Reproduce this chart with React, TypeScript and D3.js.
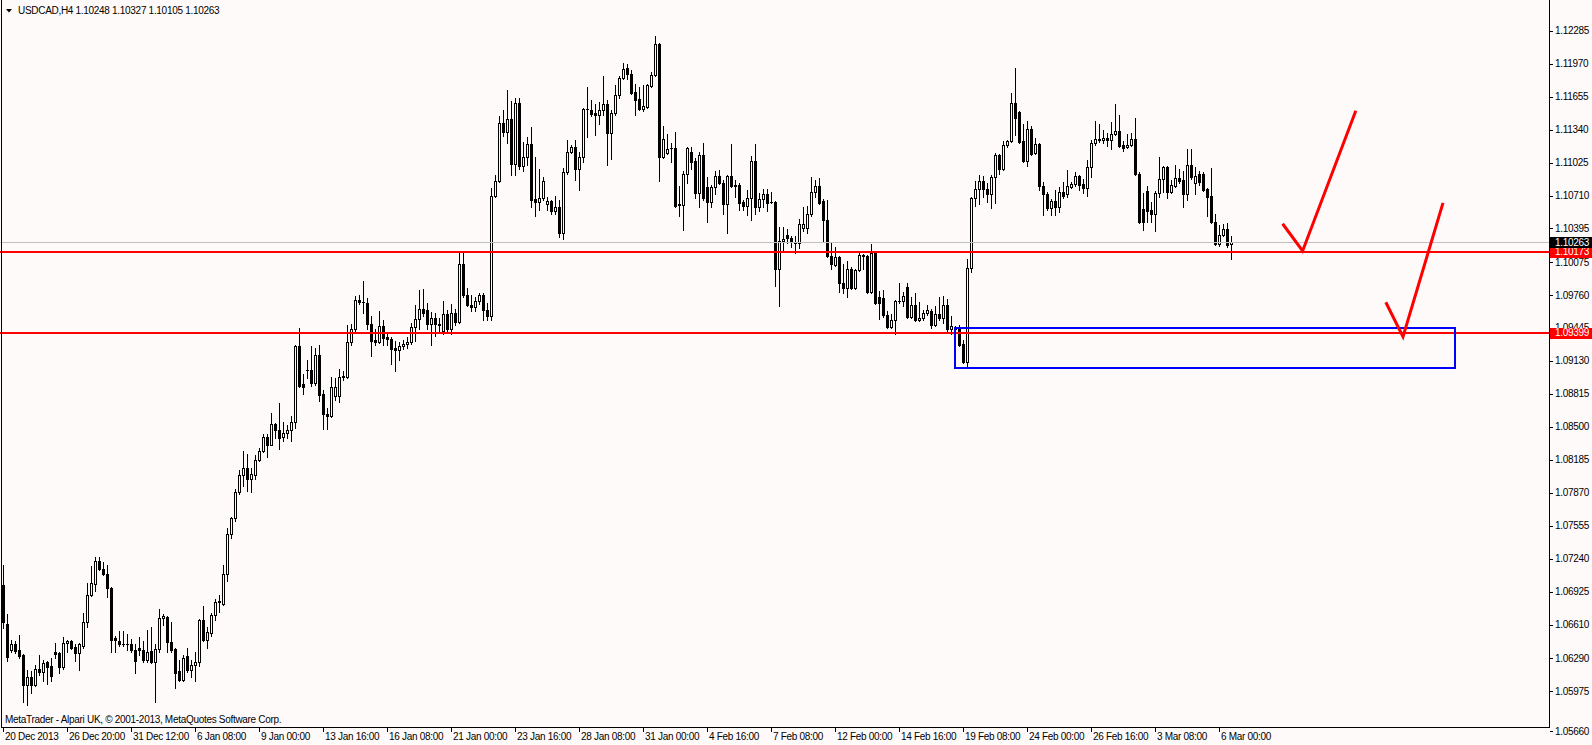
import * as d3 from 'd3';
import { useEffect } from 'react';

// USDCAD H4, one value per bar (bar 0 = 20 Dec 2013 00:00)
const opens = [
  1.0699, 1.0662, 1.0637, 1.0642, 1.0637, 1.0632, 1.0603, 1.0611, 1.0603, 1.0619, 1.0616, 1.0625, 1.0621, 1.0635, 1.0634, 1.0620,
  1.0643, 1.0645, 1.0640, 1.0634, 1.0641, 1.0663, 1.0689, 1.0700, 1.0722, 1.0714, 1.0709, 1.0696, 1.0648, 1.0645, 1.0642, 1.0642,
  1.0642, 1.0637, 1.0639, 1.0637, 1.0627, 1.0636, 1.0625, 1.0638, 1.0667, 1.0668, 1.0644, 1.0638, 1.0617, 1.0608, 1.0631, 1.0618,
  1.0622, 1.0625, 1.0665, 1.0646, 1.0653, 1.0670, 1.0683, 1.0681, 1.0709, 1.0748, 1.0763, 1.0788, 1.0804, 1.0811, 1.0800, 1.0804,
  1.0818, 1.0827, 1.0840, 1.0833, 1.0853, 1.0847, 1.0840, 1.0844, 1.0847, 1.0855, 1.0927, 1.0891, 1.0904, 1.0904, 1.0892, 1.0919,
  1.0881, 1.0862, 1.0860, 1.0879, 1.0879, 1.0898, 1.0898, 1.0931, 1.0943, 1.0971, 1.0969, 1.0968, 1.0948, 1.0933, 1.0931, 1.0946,
  1.0936, 1.0934, 1.0925, 1.0923, 1.0927, 1.0929, 1.0931, 1.0945, 1.0953, 1.0963, 1.0962, 1.0948, 1.0954, 1.0948, 1.0942, 1.0958,
  1.0943, 1.0959, 1.0950, 1.1006, 1.0976, 1.0966, 1.0964, 1.0970, 1.0976, 1.0962, 1.0956, 1.1071, 1.1085, 1.1140, 1.1132, 1.1144,
  1.1101, 1.1159, 1.1099, 1.1108, 1.1120, 1.1068, 1.1065, 1.1069, 1.1063, 1.1066, 1.1056, 1.1060, 1.1035, 1.1093, 1.1113, 1.1117,
  1.1096, 1.1108, 1.1154, 1.1153, 1.1150, 1.1148, 1.1153, 1.1158, 1.1131, 1.1150, 1.1167, 1.1183, 1.1193, 1.1187, 1.1170, 1.1163,
  1.1154, 1.1156, 1.1176, 1.1186, 1.1216, 1.1108, 1.1112, 1.1116, 1.1116, 1.1063, 1.1062, 1.1092, 1.1113, 1.1104, 1.1073, 1.1110,
  1.1079, 1.1065, 1.1079, 1.1090, 1.1083, 1.1063, 1.1090, 1.1081, 1.1081, 1.1065, 1.1061, 1.1069, 1.1104, 1.1060, 1.1068, 1.1072,
  1.1065, 1.1065, 1.1001, 1.1028, 1.1033, 1.1030, 1.1027, 1.1026, 1.1040, 1.1040, 1.1053, 1.1074, 1.1080, 1.1066, 1.1048, 1.1013,
  1.1005, 1.1012, 1.0987, 1.0983, 1.1001, 1.0983, 1.1000, 1.1014, 1.1013, 1.0979, 1.1016, 1.0974, 1.0973, 1.0957, 1.0945, 1.0952,
  1.0970, 1.0970, 1.0984, 1.0955, 1.0966, 1.0952, 1.0954, 1.0959, 1.0961, 1.0947, 1.0958, 1.0954, 1.0966, 1.0943, 1.0945, 1.0944,
  1.0929, 1.0912, 1.1002, 1.1069, 1.1077, 1.1085, 1.1077, 1.1072, 1.1089, 1.1110, 1.1096, 1.1119, 1.1123, 1.1159, 1.1151, 1.1123,
  1.1104, 1.1135, 1.1112, 1.1120, 1.1080, 1.1072, 1.1059, 1.1066, 1.1060, 1.1074, 1.1072, 1.1079, 1.1082, 1.1090, 1.1082, 1.1078,
  1.1098, 1.1121, 1.1125, 1.1124, 1.1126, 1.1124, 1.1130, 1.1133, 1.1119, 1.1117, 1.1119, 1.1125, 1.1092, 1.1058, 1.1075, 1.1057,
  1.1053, 1.1073, 1.1087, 1.1098, 1.1074, 1.1080, 1.1088, 1.1086, 1.1072, 1.1100, 1.1083, 1.1092, 1.1092, 1.1077, 1.1071, 1.1046,
  1.1025, 1.1033, 1.1039, 1.10248,
];
const highs = [
  1.0718, 1.0671, 1.0646, 1.0645, 1.0651, 1.0633, 1.0618, 1.0617, 1.0622, 1.0632, 1.0627, 1.0626, 1.0629, 1.0643, 1.0635, 1.0649,
  1.0646, 1.0646, 1.0642, 1.0643, 1.0672, 1.0701, 1.0717, 1.0726, 1.0726, 1.0721, 1.0718, 1.0697, 1.0650, 1.0655, 1.0655, 1.0652,
  1.0647, 1.0642, 1.0649, 1.0645, 1.0656, 1.0659, 1.0642, 1.0676, 1.0671, 1.0669, 1.0663, 1.0639, 1.0627, 1.0632, 1.0639, 1.0627,
  1.0635, 1.0666, 1.0679, 1.0659, 1.0672, 1.0685, 1.0689, 1.0718, 1.0753, 1.0764, 1.0791, 1.0809, 1.0827, 1.0824, 1.0811, 1.0823,
  1.0830, 1.0843, 1.0843, 1.0863, 1.0854, 1.0873, 1.0855, 1.0852, 1.0860, 1.0928, 1.0944, 1.0900, 1.0914, 1.0927, 1.0925, 1.0928,
  1.0885, 1.0868, 1.0898, 1.0897, 1.0905, 1.0903, 1.0947, 1.0948, 1.0975, 1.0976, 1.0989, 1.0973, 1.0956, 1.0943, 1.0961, 1.0952,
  1.0940, 1.0936, 1.0932, 1.0931, 1.0933, 1.0936, 1.0949, 1.0966, 1.0981, 1.0982, 1.0968, 1.0960, 1.0959, 1.0954, 1.0970, 1.0962,
  1.0967, 1.0963, 1.1017, 1.1017, 1.0983, 1.0976, 1.0974, 1.0978, 1.0978, 1.0968, 1.1078, 1.1091, 1.1147, 1.1153, 1.1172, 1.1161,
  1.1164, 1.1164, 1.1122, 1.1127, 1.1136, 1.1108, 1.1096, 1.1089, 1.1070, 1.1067, 1.1071, 1.1067, 1.1097, 1.1124, 1.1119, 1.1124,
  1.1113, 1.1155, 1.1175, 1.1162, 1.1158, 1.1160, 1.1185, 1.1162, 1.1153, 1.1177, 1.1185, 1.1198, 1.1197, 1.1191, 1.1178, 1.1175,
  1.1177, 1.1178, 1.1189, 1.1223, 1.1217, 1.1137, 1.1130, 1.1121, 1.1132, 1.1080, 1.1094, 1.1117, 1.1117, 1.1107, 1.1113, 1.1121,
  1.1089, 1.1081, 1.1094, 1.1095, 1.1086, 1.1091, 1.1120, 1.1086, 1.1083, 1.1067, 1.1076, 1.1109, 1.1120, 1.1073, 1.1077, 1.1077,
  1.1074, 1.1066, 1.1041, 1.1041, 1.1039, 1.1032, 1.1032, 1.1049, 1.1060, 1.1061, 1.1089, 1.1086, 1.1088, 1.1068, 1.1067, 1.1026,
  1.1022, 1.1013, 1.1006, 1.1008, 1.1003, 1.1001, 1.1018, 1.1015, 1.1014, 1.1025, 1.1018, 1.0980, 1.0981, 1.0961, 1.0958, 1.0971,
  1.0987, 1.0979, 1.0987, 1.0974, 1.0978, 1.0969, 1.0962, 1.0966, 1.0963, 1.0965, 1.0974, 1.0975, 1.0972, 1.0956, 1.0946, 1.0947,
  1.0933, 1.1010, 1.1070, 1.1085, 1.1091, 1.1090, 1.1083, 1.1091, 1.1112, 1.1111, 1.1123, 1.1124, 1.1169, 1.1193, 1.1152, 1.1139,
  1.1142, 1.1137, 1.1126, 1.1121, 1.1084, 1.1074, 1.1068, 1.1076, 1.1079, 1.1084, 1.1095, 1.1084, 1.1093, 1.1091, 1.1087, 1.1105,
  1.1124, 1.1142, 1.1139, 1.1134, 1.1131, 1.1141, 1.1158, 1.1148, 1.1123, 1.1130, 1.1131, 1.1145, 1.1093, 1.1073, 1.1080, 1.1065,
  1.1075, 1.1108, 1.1099, 1.1099, 1.1086, 1.1100, 1.1096, 1.1094, 1.1115, 1.1115, 1.1098, 1.1094, 1.1093, 1.1078, 1.1097, 1.1053,
  1.1043, 1.1044, 1.1045, 1.10327,
];
const lows = [
  1.0658, 1.0626, 1.0635, 1.0634, 1.0629, 1.0587, 1.0584, 1.0596, 1.0602, 1.0613, 1.0607, 1.0604, 1.0607, 1.0629, 1.0615, 1.0619,
  1.0635, 1.0638, 1.0626, 1.0618, 1.0639, 1.0659, 1.0688, 1.0693, 1.0713, 1.0708, 1.0687, 1.0635, 1.0635, 1.0641, 1.0641, 1.0637,
  1.0635, 1.0615, 1.0632, 1.0625, 1.0625, 1.0624, 1.0587, 1.0635, 1.0661, 1.0635, 1.0635, 1.0600, 1.0607, 1.0607, 1.0616, 1.0611,
  1.0607, 1.0621, 1.0645, 1.0639, 1.0650, 1.0665, 1.0673, 1.0680, 1.0703, 1.0744, 1.0760, 1.0786, 1.0793, 1.0789, 1.0788, 1.0800,
  1.0817, 1.0826, 1.0821, 1.0833, 1.0839, 1.0829, 1.0836, 1.0839, 1.0836, 1.0849, 1.0888, 1.0881, 1.0897, 1.0889, 1.0890, 1.0875,
  1.0848, 1.0848, 1.0859, 1.0876, 1.0874, 1.0895, 1.0897, 1.0928, 1.0942, 1.0967, 1.0959, 1.0943, 1.0918, 1.0928, 1.0930, 1.0928,
  1.0928, 1.0910, 1.0903, 1.0914, 1.0924, 1.0925, 1.0929, 1.0932, 1.0943, 1.0956, 1.0943, 1.0928, 1.0937, 1.0940, 1.0939, 1.0940,
  1.0939, 1.0947, 1.0949, 1.0974, 1.0965, 1.0961, 1.0961, 1.0967, 1.0952, 1.0952, 1.0952, 1.1070, 1.1084, 1.1128, 1.1121, 1.1091,
  1.1091, 1.1096, 1.1094, 1.1100, 1.1060, 1.1051, 1.1057, 1.1067, 1.1057, 1.1053, 1.1053, 1.1031, 1.1029, 1.1092, 1.1112, 1.1086,
  1.1076, 1.1103, 1.1127, 1.1147, 1.1129, 1.1139, 1.1148, 1.1100, 1.1106, 1.1148, 1.1164, 1.1182, 1.1182, 1.1168, 1.1148, 1.1153,
  1.1152, 1.1155, 1.1175, 1.1185, 1.1085, 1.1107, 1.1111, 1.1103, 1.1060, 1.1051, 1.1038, 1.1083, 1.1096, 1.1069, 1.1060, 1.1067,
  1.1046, 1.1060, 1.1072, 1.1082, 1.1053, 1.1035, 1.1079, 1.1070, 1.1057, 1.1057, 1.1052, 1.1048, 1.1053, 1.1056, 1.1060, 1.1056,
  1.1064, 1.0985, 1.0965, 1.1019, 1.1026, 1.1022, 1.1016, 1.1021, 1.1037, 1.1035, 1.1051, 1.1070, 1.1063, 1.1028, 1.1012, 1.1001,
  1.1004, 1.0979, 1.0978, 1.0974, 1.0982, 1.0982, 1.0999, 1.1001, 1.0978, 1.0978, 1.0967, 1.0953, 1.0955, 1.0944, 1.0944, 1.0939,
  1.0968, 1.0965, 1.0954, 1.0954, 1.0951, 1.0951, 1.0952, 1.0957, 1.0944, 1.0946, 1.0952, 1.0949, 1.0942, 1.0939, 1.0938, 1.0927,
  1.0911, 1.0908, 1.0998, 1.1061, 1.1063, 1.1070, 1.1065, 1.1059, 1.1064, 1.1092, 1.1095, 1.1117, 1.1122, 1.1129, 1.1121, 1.1103,
  1.1099, 1.1110, 1.1111, 1.1076, 1.1052, 1.1057, 1.1052, 1.1052, 1.1055, 1.1069, 1.1070, 1.1078, 1.1080, 1.1076, 1.1073, 1.1071,
  1.1089, 1.1119, 1.1122, 1.1121, 1.1118, 1.1115, 1.1129, 1.1117, 1.1114, 1.1116, 1.1118, 1.1091, 1.1045, 1.1038, 1.1046, 1.1046,
  1.1037, 1.1070, 1.1074, 1.1069, 1.1073, 1.1079, 1.1083, 1.1060, 1.1067, 1.1087, 1.1072, 1.1081, 1.1075, 1.1051, 1.1045, 1.1024,
  1.1023, 1.1032, 1.1022, 1.10105,
];
const closes = [
  1.0663, 1.0630, 1.0642, 1.0636, 1.0631, 1.0603, 1.0611, 1.0603, 1.0619, 1.0616, 1.0624, 1.0620, 1.0612, 1.0633, 1.0620, 1.0643,
  1.0645, 1.0639, 1.0634, 1.0642, 1.0663, 1.0689, 1.0701, 1.0722, 1.0714, 1.0709, 1.0696, 1.0646, 1.0646, 1.0642, 1.0642, 1.0642,
  1.0637, 1.0626, 1.0637, 1.0627, 1.0635, 1.0625, 1.0638, 1.0667, 1.0669, 1.0644, 1.0637, 1.0615, 1.0608, 1.0629, 1.0618, 1.0622,
  1.0625, 1.0665, 1.0646, 1.0654, 1.0670, 1.0683, 1.0684, 1.0709, 1.0748, 1.0763, 1.0788, 1.0804, 1.0811, 1.0800, 1.0805, 1.0818,
  1.0827, 1.0840, 1.0833, 1.0853, 1.0847, 1.0839, 1.0844, 1.0847, 1.0855, 1.0927, 1.0889, 1.0888, 1.0904, 1.0892, 1.0919, 1.0880,
  1.0862, 1.0860, 1.0888, 1.0888, 1.0898, 1.0899, 1.0931, 1.0943, 1.0971, 1.0969, 1.0969, 1.0948, 1.0932, 1.0931, 1.0946, 1.0935,
  1.0934, 1.0924, 1.0923, 1.0927, 1.0929, 1.0931, 1.0945, 1.0953, 1.0963, 1.0959, 1.0948, 1.0954, 1.0948, 1.0947, 1.0958, 1.0943,
  1.0959, 1.0950, 1.1006, 1.0976, 1.0966, 1.0964, 1.0970, 1.0976, 1.0962, 1.0956, 1.1071, 1.1085, 1.1140, 1.1132, 1.1144, 1.1101,
  1.1159, 1.1099, 1.1108, 1.1120, 1.1067, 1.1065, 1.1069, 1.1085, 1.1066, 1.1056, 1.1060, 1.1035, 1.1093, 1.1113, 1.1117, 1.1096,
  1.1108, 1.1154, 1.1154, 1.1149, 1.1148, 1.1153, 1.1158, 1.1131, 1.1150, 1.1167, 1.1183, 1.1192, 1.1187, 1.1169, 1.1162, 1.1154,
  1.1157, 1.1177, 1.1186, 1.1216, 1.1108, 1.1125, 1.1115, 1.1116, 1.1061, 1.1062, 1.1092, 1.1116, 1.1103, 1.1073, 1.1110, 1.1069,
  1.1065, 1.1079, 1.1090, 1.1083, 1.1063, 1.1090, 1.1080, 1.1080, 1.1064, 1.1061, 1.1069, 1.1104, 1.1060, 1.1068, 1.1072, 1.1064,
  1.1065, 1.1001, 1.1028, 1.1029, 1.1030, 1.1027, 1.1026, 1.1044, 1.1044, 1.1053, 1.1074, 1.1080, 1.1064, 1.1048, 1.1013, 1.1006,
  1.1012, 1.0987, 1.0983, 1.1001, 1.0983, 1.1000, 1.1014, 1.1013, 1.0979, 1.1016, 1.0968, 1.0968, 1.0957, 1.0945, 1.0952, 1.0970,
  1.0970, 1.0975, 1.0955, 1.0966, 1.0952, 1.0954, 1.0959, 1.0962, 1.0947, 1.0958, 1.0954, 1.0966, 1.0943, 1.0946, 1.0943, 1.0928,
  1.0912, 1.1002, 1.1069, 1.1077, 1.1085, 1.1077, 1.1072, 1.1089, 1.1110, 1.1096, 1.1119, 1.1123, 1.1159, 1.1145, 1.1122, 1.1104,
  1.1135, 1.1111, 1.1120, 1.1080, 1.1072, 1.1059, 1.1066, 1.1060, 1.1074, 1.1071, 1.1080, 1.1082, 1.1090, 1.1081, 1.1078, 1.1098,
  1.1121, 1.1125, 1.1124, 1.1126, 1.1124, 1.1130, 1.1133, 1.1118, 1.1116, 1.1119, 1.1125, 1.1092, 1.1046, 1.1046, 1.1056, 1.1053,
  1.1073, 1.1087, 1.1098, 1.1074, 1.1081, 1.1088, 1.1085, 1.1072, 1.1100, 1.1089, 1.1090, 1.1084, 1.1076, 1.1070, 1.1046, 1.1025,
  1.1033, 1.1039, 1.1024, 1.10263,
];

const timeLabels = [
  '20 Dec 2013', '26 Dec 20:00', '31 Dec 12:00', '6 Jan 08:00', '9 Jan 00:00', '13 Jan 16:00', '16 Jan 08:00',
  '21 Jan 00:00', '23 Jan 16:00', '28 Jan 08:00', '31 Jan 00:00', '4 Feb 16:00', '7 Feb 08:00', '12 Feb 00:00',
  '14 Feb 16:00', '19 Feb 08:00', '24 Feb 00:00', '26 Feb 16:00', '3 Mar 08:00', '6 Mar 00:00',
];
const barsPerLabel = 16;

const priceTicks = [
  1.12285, 1.1197, 1.11655, 1.1134, 1.11025, 1.1071, 1.10395, 1.10075, 1.0976, 1.09445, 1.0913,
  1.08815, 1.085, 1.08185, 1.0787, 1.07555, 1.0724, 1.06925, 1.0661, 1.0629, 1.05975, 1.0566,
];

// horizontal levels drawn by hand
const levels = [1.10173, 1.09399];
const bidPrice = 1.10263;

// blue zone: [bar from, bar to], [price top, price bottom]
const zoneBars = [238, 363];
const zonePrices = [1.09443, 1.09061];

// red "tick" arrows as [bar, price] points
const arrowA = [[319.9, 1.1044], [324.9, 1.1018], [338.2, 1.1152]];
const arrowB = [[345.7, 1.0969], [350, 1.0936], [360, 1.1064]];

const W = 1592;
const H = 745;
const plotRight = 1549;
const plotBottom = 727;
const bg = '#fffafa';
const font = '"Liberation Sans", Arial, sans-serif';

export default function App() {
  useEffect(() => {
    document.body.style.margin = '0';
  }, []);

  const x = d3.scaleLinear().domain([0, 100]).range([3, 403]);
  const y = d3.scaleLinear().domain([1.10173, 1.09399]).range([251.7, 332.7]);
  const fmt = d3.format('.5f');

  const bars = opens.map((o, i) => ({ o, h: highs[i], l: lows[i], c: closes[i], i }));
  const line = d3.line<number[]>().x(d => x(d[0])).y(d => y(d[1]));

  const textProps = { fontFamily: font, fontSize: 10, letterSpacing: -0.3 };

  return (
    <svg width={W} height={H} style={{ display: 'block', background: bg }}>
      <rect width={W} height={H} fill={bg} />

      {/* candles */}
      <g shapeRendering="crispEdges">
        {bars.map(b => {
          const px = Math.round(x(b.i));
          const top = Math.round(y(Math.max(b.o, b.c)));
          const bot = Math.round(y(Math.min(b.o, b.c)));
          const hi = Math.round(y(b.h));
          const lo = Math.round(y(b.l));
          const bull = b.c > b.o;
          return (
            <g key={b.i}>
              <line x1={px + 0.5} x2={px + 0.5} y1={hi} y2={lo + 1} stroke="#000" />
              {bot - top < 1 ? (
                <line x1={px - 1} x2={px + 2} y1={top + 0.5} y2={top + 0.5} stroke="#000" />
              ) : bull ? (
                <rect x={px - 0.5} y={top + 0.5} width={2} height={bot - top} fill={bg} stroke="#000" />
              ) : (
                <rect x={px - 1} y={top} width={3} height={bot - top + 1} fill="#000" />
              )}
            </g>
          );
        })}
      </g>

      {/* bid line */}
      <line x1={0} x2={plotRight} y1={Math.round(y(bidPrice)) + 0.5} y2={Math.round(y(bidPrice)) + 0.5}
        stroke="#c0c0c0" shapeRendering="crispEdges" />

      {/* red levels */}
      {levels.map(v => (
        <line key={v} x1={0} x2={plotRight} y1={Math.round(y(v))} y2={Math.round(y(v))}
          stroke="#ff0000" strokeWidth={2} shapeRendering="crispEdges" />
      ))}

      {/* blue zone */}
      <rect x={x(zoneBars[0])} y={Math.round(y(zonePrices[0]))} width={x(zoneBars[1]) - x(zoneBars[0])}
        height={Math.round(y(zonePrices[1])) - Math.round(y(zonePrices[0]))}
        fill="none" stroke="#0000ff" strokeWidth={2} shapeRendering="crispEdges" />

      {/* red arrows */}
      {[arrowA, arrowB].map((a, k) => (
        <path key={k} d={line(a) || ''} fill="none" stroke="#ff0000" strokeWidth={3} strokeLinejoin="miter" />
      ))}

      {/* frame */}
      <g shapeRendering="crispEdges" stroke="#000">
        <line x1={1.5} x2={1.5} y1={0} y2={plotBottom} />
        <line x1={plotRight + 0.5} x2={plotRight + 0.5} y1={0} y2={plotBottom + 1} />
        <line x1={1} x2={plotRight + 1} y1={plotBottom + 0.5} y2={plotBottom + 0.5} />
      </g>

      {/* price axis */}
      <g>
        {priceTicks.map(v => {
          let ty = y(v);
          if (ty > plotBottom - 6) ty = plotBottom + 4;
          return (
            <g key={v}>
              <line x1={plotRight + 1} x2={plotRight + 4} y1={Math.round(ty) + 0.5} y2={Math.round(ty) + 0.5}
                stroke="#000" shapeRendering="crispEdges" />
              <text x={plotRight + 6} y={ty + 3.6} {...textProps} fill="#000">{fmt(v)}</text>
            </g>
          );
        })}
      </g>

      {/* price labels */}
      {levels.map(v => (
        <g key={v}>
          <rect x={plotRight + 1} y={Math.round(y(v)) - 5} width={W - plotRight} height={11} fill="#ff0000" />
          <text x={plotRight + 6} y={y(v) + 3.6} {...textProps} fill="#fff">{fmt(v)}</text>
        </g>
      ))}
      <rect x={plotRight + 1} y={Math.round(y(bidPrice)) - 5} width={W - plotRight} height={11} fill="#000" />
      <text x={plotRight + 6} y={y(bidPrice) + 3.6} {...textProps} fill="#fff">{fmt(bidPrice)}</text>

      {/* time axis */}
      {timeLabels.map((t, k) => {
        const tx = Math.round(x(k * barsPerLabel));
        return (
          <g key={t}>
            <line x1={tx + 0.5} x2={tx + 0.5} y1={plotBottom + 1} y2={plotBottom + 5} stroke="#000" shapeRendering="crispEdges" />
            <text x={tx + 2} y={plotBottom + 13} {...textProps} fill="#000">{t}</text>
          </g>
        );
      })}

      {/* title + copyright */}
      <path d="M6,9 L12,9 L9,12.5 Z" fill="#000" />
      <text x={18} y={14} {...textProps} fill="#000">
        {`USDCAD,H4  ${fmt(opens[opens.length - 1])} ${fmt(highs[highs.length - 1])} ${fmt(lows[lows.length - 1])} ${fmt(closes[closes.length - 1])}`}
      </text>
      <text x={5} y={723} {...textProps} fill="#000">MetaTrader - Alpari UK, © 2001-2013, MetaQuotes Software Corp.</text>
    </svg>
  );
}
